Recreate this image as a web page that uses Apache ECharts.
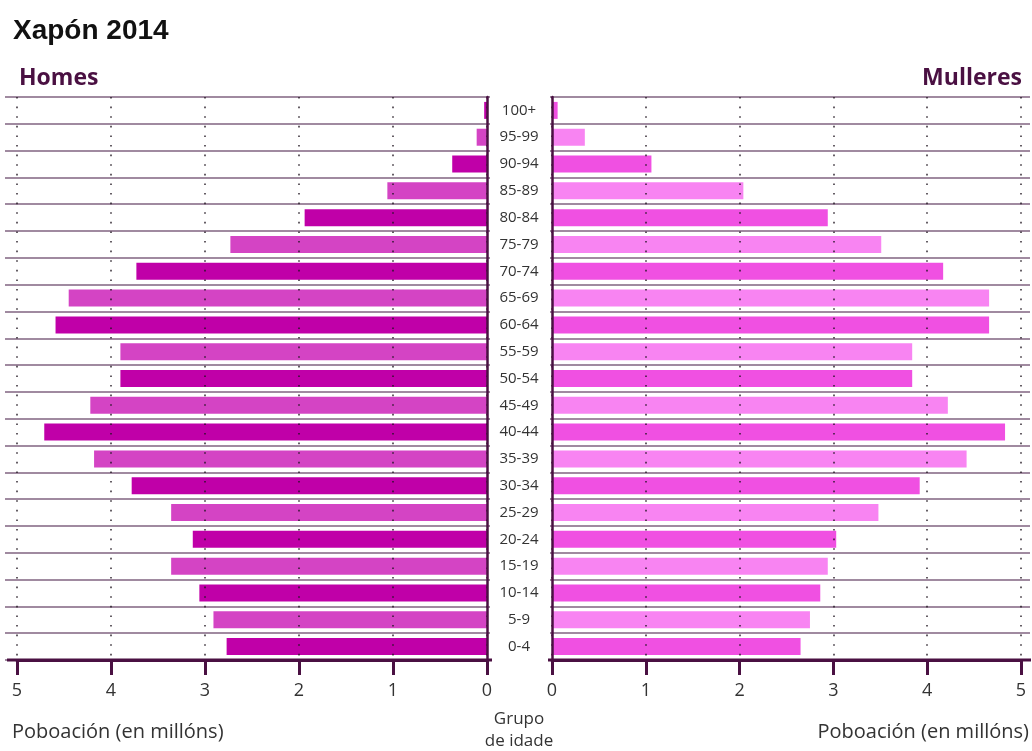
<!DOCTYPE html>
<html>
<head>
<meta charset="utf-8">
<script src="https://cdn.jsdelivr.net/npm/echarts@6/dist/echarts.min.js"></script>
<style>
html,body{margin:0;padding:0;background:#fff;}
#chart{width:1032px;height:751px;}
</style>
</head>
<body>
<div id="chart"></div>
<script>
const categories = ['0-4','5-9','10-14','15-19','20-24','25-29','30-34','35-39','40-44','45-49','50-54','55-59','60-64','65-69','70-74','75-79','80-84','85-89','90-94','95-99','100+'];
const homes = [2.77, 2.91, 3.06, 3.36, 3.13, 3.36, 3.78, 4.18, 4.71, 4.22, 3.90, 3.90, 4.59, 4.45, 3.73, 2.73, 1.94, 1.06, 0.37, 0.11, 0.03];
const mulleres = [2.65, 2.75, 2.86, 2.94, 3.03, 3.48, 3.92, 4.42, 4.83, 4.22, 3.84, 3.84, 4.66, 4.66, 4.17, 3.51, 2.94, 2.04, 1.06, 0.35, 0.06];
const xTicks = [0, 1, 2, 3, 4, 5];

const FONT = 'Open Sans';
const AX = '#4a1042';
const homesColors = ['#c000a8', '#d444c4'];
const mulleresColors = ['#f050e2', '#f884f2'];

const chart = echarts.init(document.getElementById('chart'));

const rowLine = {show: true, lineStyle: {color: '#a08aa0', width: 1.8}};
const dotted = {show: true, lineStyle: {color: 'rgba(30,20,30,0.85)', width: 1.6, type: [1.6, 8]}};

const option = {
  animation: false,
  backgroundColor: '#fff',
  title: [
    {text: 'Xapón 2014', left: 13, top: 17, padding: 0, textStyle: {fontFamily: 'Liberation Sans', fontWeight: 'bold', fontSize: 28, color: '#111'}},
    {text: 'Homes', left: 19, top: 67, padding: 0, textStyle: {fontFamily: FONT, fontWeight: 'bold', fontSize: 23, color: '#4a1042'}},
    {text: 'Mulleres', right: 10, top: 67, padding: 0, textStyle: {fontFamily: FONT, fontWeight: 'bold', fontSize: 23, color: '#4a1042'}},
    {text: 'Poboación (en millóns)', left: 12, top: 722, padding: 0, textStyle: {fontFamily: FONT, fontWeight: 'normal', fontSize: 20, color: '#333'}},
    {text: 'Poboación (en millóns)', right: 3, top: 722, padding: 0, textStyle: {fontFamily: FONT, fontWeight: 'normal', fontSize: 20, color: '#333'}},
    {text: 'Grupo\nde idade', left: 519, top: 708, padding: 0, textAlign: 'center', textStyle: {fontFamily: FONT, fontWeight: 'normal', fontSize: 17, lineHeight: 22, color: '#333', align: 'center'}}
  ],
  grid: [
    {left: 17, right: 545, top: 97, bottom: 91},
    {left: 552, right: 11, top: 97, bottom: 91},
    {left: 5, right: 542, top: 97, bottom: 91},
    {left: 550, right: 2, top: 97, bottom: 91}
  ],
  xAxis: [
    {gridIndex: 0, type: 'value', min: 0, max: 5, interval: 1, inverse: true, z: 3,
     axisLine: {show: true, lineStyle: {color: AX, width: 3}},
     axisTick: {show: true, length: 15, lineStyle: {color: AX, width: 3}},
     axisLabel: {margin: 22, fontFamily: FONT, fontSize: 18, color: '#333', formatter: v => xTicks.includes(v) ? String(v) : ''},
     splitLine: dotted},
    {gridIndex: 1, type: 'value', min: 0, max: 5, interval: 1, z: 3,
     axisLine: {show: true, lineStyle: {color: AX, width: 3}},
     axisTick: {show: true, length: 15, lineStyle: {color: AX, width: 3}},
     axisLabel: {margin: 22, fontFamily: FONT, fontSize: 18, color: '#333', formatter: v => xTicks.includes(v) ? String(v) : ''},
     splitLine: dotted},
    {gridIndex: 2, type: 'value', min: 0, max: 1, show: false},
    {gridIndex: 3, type: 'value', min: 0, max: 1, show: false}
  ],
  yAxis: [
    {gridIndex: 0, type: 'category', data: categories, position: 'right', z: 4,
     axisLine: {show: true, lineStyle: {color: AX, width: 2.5}},
     axisTick: {show: false},
     axisLabel: {align: 'center', margin: 32, fontFamily: FONT, fontSize: 15, color: '#333'},
     splitLine: {show: false}},
    {gridIndex: 1, type: 'category', data: categories, position: 'left', z: 4,
     axisLine: {show: true, lineStyle: {color: AX, width: 2.5}},
     axisTick: {show: false}, axisLabel: {show: false}, splitLine: {show: false}},
    {gridIndex: 2, type: 'category', data: categories, z: 1,
     axisLine: {show: false}, axisTick: {show: false}, axisLabel: {show: false}, splitLine: rowLine},
    {gridIndex: 3, type: 'category', data: categories, z: 1,
     axisLine: {show: false}, axisTick: {show: false}, axisLabel: {show: false}, splitLine: rowLine}
  ],
  graphic: [
    {type: 'line', shape: {x1: 7, y1: 660, x2: 492, y2: 660}, style: {stroke: AX, lineWidth: 3}, z: 10},
    {type: 'line', shape: {x1: 548, y1: 660, x2: 1031, y2: 660}, style: {stroke: AX, lineWidth: 3}, z: 10}
  ],
  series: [
    {type: 'bar', name: 'Homes', xAxisIndex: 0, yAxisIndex: 0, data: homes, barWidth: 17,
     itemStyle: {color: p => homesColors[p.dataIndex % 2]}},
    {type: 'bar', name: 'Mulleres', xAxisIndex: 1, yAxisIndex: 1, data: mulleres, barWidth: 17,
     itemStyle: {color: p => mulleresColors[p.dataIndex % 2]}}
  ]
};
chart.setOption(option);
</script>
</body>
</html>
